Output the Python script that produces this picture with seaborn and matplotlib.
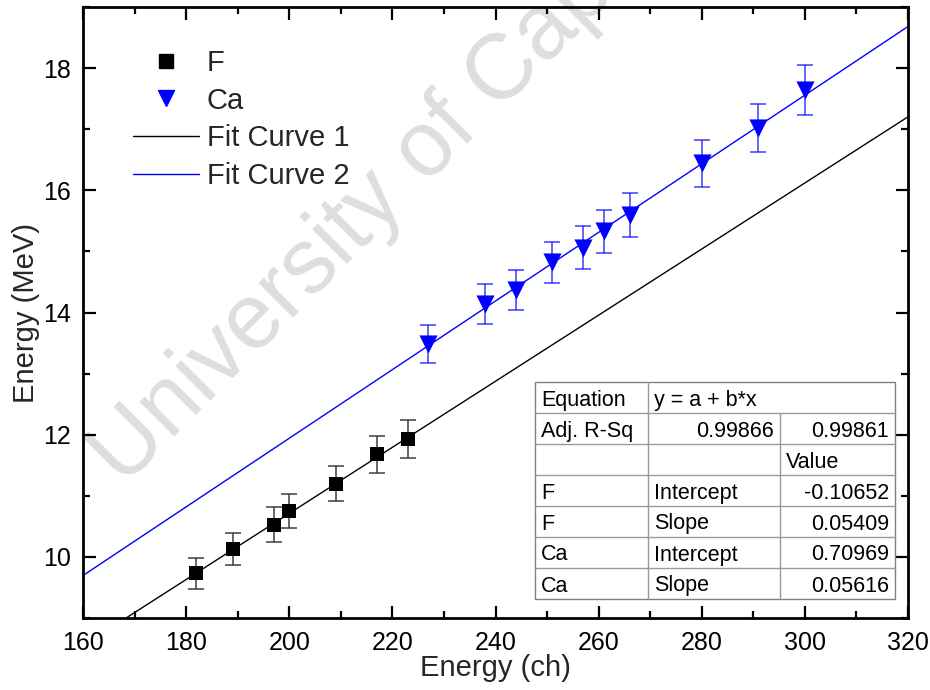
import matplotlib
matplotlib.use("Agg")
import matplotlib.pyplot as plt
from matplotlib.lines import Line2D
from matplotlib.patches import Rectangle
from matplotlib.ticker import MultipleLocator
import seaborn as sns

# ---- data ----
F_x = [182, 189, 197, 200, 209, 217, 223]
F_y = [9.73, 10.13, 10.53, 10.75, 11.20, 11.68, 11.93]
F_err = [0.25, 0.26, 0.28, 0.28, 0.29, 0.30, 0.31]

Ca_x = [227, 238, 244, 251, 257, 261, 266, 280, 291, 300]
Ca_y = [13.48, 14.14, 14.37, 14.82, 15.06, 15.33, 15.60, 16.44, 17.02, 17.64]
Ca_err = [0.31, 0.33, 0.33, 0.34, 0.35, 0.35, 0.36, 0.38, 0.40, 0.41]

fit_intercepts = [-0.10652, 0.70969]
fit_slopes = [0.05409, 0.05616]
fit_x_range = [160, 320]

legend_labels = ["F", "Ca", "Fit Curve 1", "Fit Curve 2"]

table_rows = [
    ["Equation", "y = a + b*x", ""],
    ["Adj. R-Sq", "0.99866", "0.99861"],
    ["", "", "Value"],
    ["F", "Intercept", "-0.10652"],
    ["F", "Slope", "0.05409"],
    ["Ca", "Intercept", "0.70969"],
    ["Ca", "Slope", "0.05616"],
]
table_align = [
    ["left", "left", "left"],
    ["left", "right", "right"],
    ["left", "left", "left"],
    ["left", "left", "right"],
    ["left", "left", "right"],
    ["left", "left", "right"],
    ["left", "left", "right"],
]

watermark = "University of Cape Town"

# ---- style ----
sns.set_style("ticks")
plt.rcParams['font.family'] = ['Liberation Sans', 'DejaVu Sans']

W, H = 930, 690
fig = plt.figure(figsize=(W / 100, H / 100), dpi=100)
ax = fig.add_axes([83 / W, 1 - 618 / H, 825 / W, 611 / H])
ax.patch.set_visible(False)

# watermark (behind the axes)
fig.text(124 / W, 1 - 488 / H, watermark, rotation=45, rotation_mode='anchor',
         ha='left', va='baseline', fontsize=66, color='#dedede', zorder=-1)

BLUE = '#0000ff'

# fit lines
for a, b, c in zip(fit_intercepts, fit_slopes, ['black', BLUE]):
    fy = [a + b * xv for xv in fit_x_range]
    sns.lineplot(x=fit_x_range, y=fy, color=c, lw=1.0, ax=ax, zorder=2)

# error bars
ax.errorbar(F_x, F_y, yerr=F_err, fmt='none', ecolor='#333333', elinewidth=1.3,
            capsize=6, capthick=1.3, alpha=0.8, zorder=3)
ax.errorbar(Ca_x, Ca_y, yerr=Ca_err, fmt='none', ecolor=BLUE, elinewidth=1.3,
            capsize=6, capthick=1.3, alpha=0.65, zorder=3)

# markers
sns.scatterplot(x=F_x, y=F_y, marker='s', color='black', s=100, edgecolor='black',
                linewidth=0, ax=ax, zorder=4)
sns.scatterplot(x=Ca_x, y=Ca_y, marker='v', color=BLUE, s=170, edgecolor=BLUE,
                linewidth=0, ax=ax, zorder=4)

ax.set_xlim(160, 320)
ax.set_ylim(9, 19)
ax.xaxis.set_major_locator(MultipleLocator(20))
ax.xaxis.set_minor_locator(MultipleLocator(10))
ax.yaxis.set_major_locator(MultipleLocator(2))
ax.yaxis.set_minor_locator(MultipleLocator(1))
ax.tick_params(which='both', direction='in', top=True, right=True,
               width=1.6, colors='black')
ax.tick_params(which='major', length=9, labelsize=18, pad=9)
ax.tick_params(which='minor', length=5)
for s in ax.spines.values():
    s.set_linewidth(2)
    s.set_color('black')

ax.set_xlabel("Energy (ch)", fontsize=21, labelpad=0)
ax.set_ylabel("Energy (MeV)", fontsize=21, labelpad=2)

# legend
handles = [
    Line2D([], [], marker='s', color='black', ls='none', ms=9.5),
    Line2D([], [], marker='v', color=BLUE, ls='none', ms=12),
    Line2D([], [], color='black', lw=1),
    Line2D([], [], color=BLUE, lw=1),
]
ax.legend(handles, legend_labels, loc='upper left', frameon=False, fontsize=21,
          handlelength=2.25, handletextpad=0.28, labelspacing=0.33,
          borderpad=0, borderaxespad=0,
          bbox_to_anchor=(50 / 825, 1 - 42 / 611))

# parameter table (axes fraction coordinates)
tx0, tx1 = (535 - 83) / 825, (895 - 83) / 825
ty_top, ty_bot = (618 - 382) / 611, (618 - 599) / 611
col_edges = [tx0, (648 - 83) / 825, (780 - 83) / 825, tx1]
nrows = len(table_rows)
rh = (ty_top - ty_bot) / nrows
ax.add_patch(Rectangle((tx0, ty_bot), tx1 - tx0, ty_top - ty_bot, transform=ax.transAxes,
                       facecolor='white', edgecolor='#808080', lw=1, zorder=5))
GRID = '#9a9a9a'
for i in range(1, nrows):
    y = ty_top - i * rh
    ax.add_line(Line2D([tx0, tx1], [y, y], transform=ax.transAxes, color=GRID, lw=1, zorder=6))
for j in (1, 2):
    x = col_edges[j]
    ystart = ty_top if j == 1 else ty_top - rh
    ax.add_line(Line2D([x, x], [ty_bot, ystart], transform=ax.transAxes, color=GRID, lw=1, zorder=6))
padx = 6 / 825
for i, row in enumerate(table_rows):
    yc = ty_top - (i + 0.5) * rh
    for j, txt in enumerate(row):
        if not txt:
            continue
        al = table_align[i][j]
        x = col_edges[j] + padx if al == 'left' else col_edges[j + 1] - padx
        ax.text(x, yc, txt, transform=ax.transAxes, ha=al, va='center_baseline',
                fontsize=15.5, color='black', zorder=7)

fig.savefig("out.png", dpi=100)
